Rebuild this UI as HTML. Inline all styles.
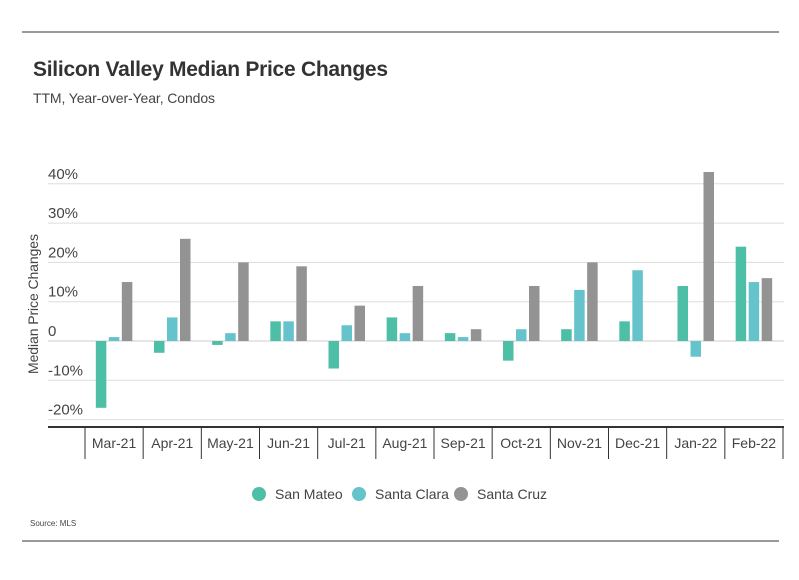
<!DOCTYPE html>
<html><head><meta charset="utf-8"><style>
body{margin:0;background:#fff;font-family:"Liberation Sans",sans-serif;}
svg text{font-family:"Liberation Sans",sans-serif;}
</style></head><body>
<svg id="c" width="799" height="575">
<line x1="22" y1="32" x2="779" y2="32" stroke="#333" stroke-width="1"/>
<line x1="22" y1="541" x2="779" y2="541" stroke="#333" stroke-width="1"/>
<text x="33" y="76" font-size="21" font-weight="bold" fill="#333" textLength="355">Silicon Valley Median Price Changes</text>
<text x="33" y="103" font-size="14" fill="#444" textLength="182">TTM, Year-over-Year, Condos</text>
<text transform="translate(38,304) rotate(-90)" text-anchor="middle" font-size="14" fill="#444" textLength="140">Median Price Changes</text>
<g id="grid"></g><g id="bars"></g><g id="xaxis"></g>
<g>
<circle cx="259" cy="494" r="7" fill="#4dbfa6"/>
<text x="275" y="499" font-size="14" fill="#444">San Mateo</text>
<circle cx="359" cy="494" r="7" fill="#65c3cc"/>
<text x="375" y="499" font-size="14" fill="#444">Santa Clara</text>
<circle cx="461" cy="494" r="7" fill="#939393"/>
<text x="477" y="499" font-size="14" fill="#444">Santa Cruz</text>
</g>
<text x="30" y="526" font-size="8" fill="#444">Source:  MLS</text>
</svg>
<script>
const categories=["Mar-21","Apr-21","May-21","Jun-21","Jul-21","Aug-21","Sep-21","Oct-21","Nov-21","Dec-21","Jan-22","Feb-22"];
const sanMateo=[-17,-3,-1,5,-7,6,2,-5,3,5,14,24];
const santaClara=[1,6,2,5,4,2,1,3,13,18,-4,15];
const santaCruz=[15,26,20,19,9,14,3,14,20,0,43,16];
const yTicks=[-20,-10,0,10,20,30,40];
const yTickLabels=["-20%","-10%","0","10%","20%","30%","40%"];
const NS="http://www.w3.org/2000/svg";
const y=v=>341-v*3.93;
const x0=85,x1=783,cw=(x1-x0)/categories.length;
const cx=i=>x0+cw*(i+0.5);
function mk(t,a,p){const e=document.createElementNS(NS,t);for(const k in a)e.setAttribute(k,a[k]);p.appendChild(e);return e;}
const grid=document.getElementById('grid');
yTicks.forEach((t,i)=>{
 const l=mk('line',{x1:48,x2:784,y1:y(t),y2:y(t),stroke:'#ddd','stroke-width':1},grid);
 
 
 const tx=mk('text',{x:48,y:y(t)-5,'font-size':15,fill:'#444'},grid);
 tx.textContent=yTickLabels[i];
 
 
});
const zl=mk('line',{x1:48,x2:784,y1:y(0),y2:y(0),stroke:'#ccc','stroke-width':1},grid);


const bars=document.getElementById('bars');
const series=[[sanMateo,'#4dbfa6','san-mateo'],[santaClara,'#65c3cc','santa-clara'],[santaCruz,'#939393','santa-cruz']];
categories.forEach((c,i)=>{
 series.forEach((s,j)=>{
  const v=s[0][i];const bx=cx(i)+(j-1)*13-5.25;
  const r=mk('rect',{x:bx,width:10.5,y:Math.min(y(v),y(0)),height:Math.abs(y(v)-y(0)),fill:s[1]},bars);
  
  
 });
});
const xa=document.getElementById('xaxis');
const ax=mk('line',{x1:48,x2:784,y1:427,y2:427,stroke:'#333','stroke-width':2},xa);


for(let i=0;i<=categories.length;i++){
 const t=mk('line',{x1:x0+cw*i,x2:x0+cw*i,y1:427,y2:459,stroke:'#333','stroke-width':1},xa);
 
 
}
categories.forEach((c,i)=>{
 const t=mk('text',{x:cx(i),y:448,'text-anchor':'middle','font-size':14,fill:'#444'},xa);
 t.textContent=c;
 
 
});
</script>
</body></html>
